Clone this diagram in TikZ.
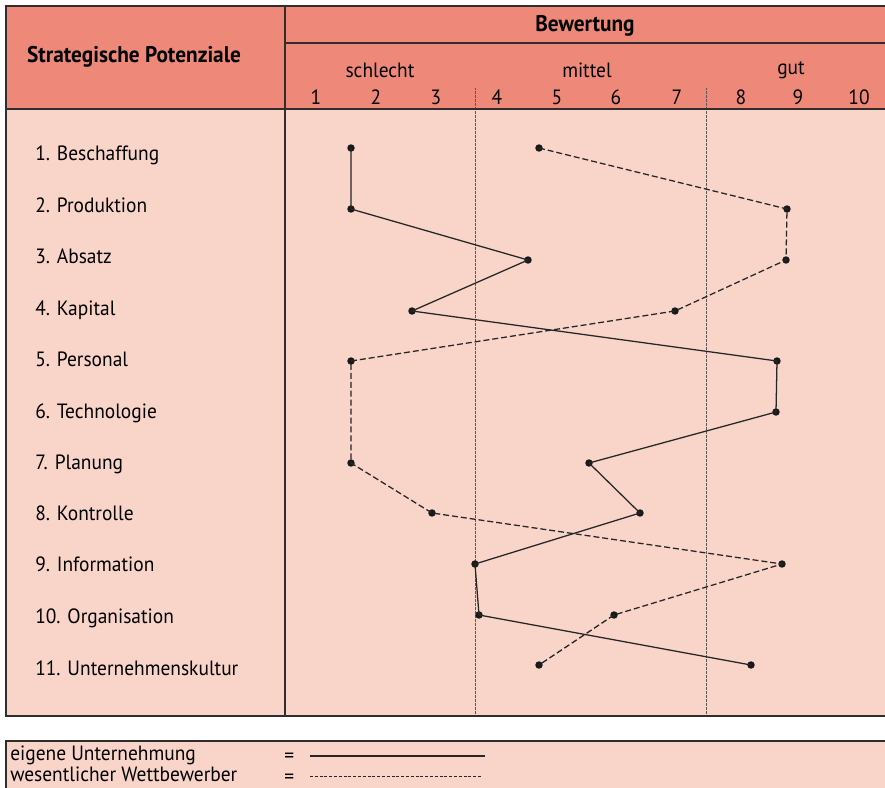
\documentclass[tikz,border=0pt]{standalone}
\usepackage{fontspec}
\setmainfont[FakeStretch=0.94]{PT Sans}
\definecolor{headfill}{RGB}{238,137,122}
\definecolor{bodyfill}{RGB}{248,212,201}
\definecolor{rule}{RGB}{50,45,45}
\begin{document}
\begin{tikzpicture}[x=0.75pt,y=-0.75pt,
  frame/.style={draw=rule,line width=1.1pt},
  divline/.style={draw=rule!80,line width=0.7pt,dash pattern=on 0.6pt off 0.4pt},
  dot/.style={circle,fill=black!90,inner sep=0pt,minimum size=5.6pt},
  own/.style={draw=black!85,line width=0.95pt},
  rival/.style={draw=black!85,line width=0.95pt,dash pattern=on 4.5pt off 2.2pt},
  item/.style={anchor=base west,font=\fontsize{15.5}{17}\selectfont,inner sep=0pt},
  head/.style={font=\fontsize{17}{19}\selectfont\bfseries,inner sep=0pt},
  scaletext/.style={font=\fontsize{15.5}{17}\selectfont,inner sep=0pt},
  legtext/.style={anchor=base west,font=\fontsize{15.5}{17}\selectfont,inner sep=0pt}]
\useasboundingbox (0,0) rectangle (885,788);
% header and body fills
\fill[headfill] (6,6) rectangle (885,109);
\fill[bodyfill] (6,109) rectangle (885,716);
\fill[bodyfill] (6,741) rectangle (885,790);
% dotted dividers
\draw[divline] (475,88) -- (475,716);
\draw[divline] (706,88) -- (706,716);
% frame lines
\draw[frame] (885,6) -- (6,6) -- (6,716) -- (885,716);
\draw[frame] (6,109) -- (885,109);
\draw[frame] (285,6) -- (285,716);
\draw[frame] (285,43) -- (885,43);
\draw[frame] (885,741) -- (6,741) -- (6,790);
% header texts
\node[head] (hsp) at (134,57) {Strategische Potenziale};
\node[head] (hbw) at (585,26) {Bewertung};
\node[scaletext] (hs) at (380,70) {schlecht};
\node[scaletext] (hm) at (587,70) {mittel};
\node[scaletext] (hg) at (791,70) {gut};
\foreach \n/\x in {1/316,2/376,3/436,4/497,5/557,6/616,7/677,8/741,9/798,10/859}
  \node[scaletext] (t\n) at (\x,97) {\n};
% items
\node[item] (i1) at (35,161) {1. Beschaffung};
\node[item] (i2) at (35,212) {2. Produktion};
\node[item] (i3) at (35,263) {3. Absatz};
\node[item] (i4) at (35,315) {4. Kapital};
\node[item] (i5) at (35,366) {5. Personal};
\node[item] (i6) at (35,418) {6. Technologie};
\node[item] (i7) at (35,469) {7. Planung};
\node[item] (i8) at (35,520) {8. Kontrolle};
\node[item] (i9) at (35,571) {9. Information};
\node[item] (i10) at (35,623) {10. Organisation};
\node[item] (i11) at (35,675) {11. Unternehmenskultur};
% own company
\node[dot] (e1) at (351,148) {};
\node[dot] (e2) at (351,209) {};
\node[dot] (e3) at (528,260) {};
\node[dot] (e4) at (412,311) {};
\node[dot] (e5) at (777,361) {};
\node[dot] (e6) at (776,412) {};
\node[dot] (e7) at (589,463) {};
\node[dot] (e8) at (640,513) {};
\node[dot] (e9) at (475,564) {};
\node[dot] (e10) at (479,615) {};
\node[dot] (e11) at (751,665) {};
\draw[own] (e1.center) -- (e2.center) -- (e3.center) -- (e4.center) -- (e5.center) -- (e6.center) -- (e7.center) -- (e8.center) -- (e9.center) -- (e10.center) -- (e11.center);
% competitor
\node[dot] (w1) at (539,148) {};
\node[dot] (w2) at (787,209) {};
\node[dot] (w3) at (786,260) {};
\node[dot] (w4) at (675,311) {};
\node[dot] (w5) at (351,361) {};
\node[dot] (w7) at (351,463) {};
\node[dot] (w8) at (432,513) {};
\node[dot] (w9) at (782,564) {};
\node[dot] (w10) at (614,615) {};
\node[dot] (w11) at (539,665) {};
\draw[rival] (w1.center) -- (w2.center) -- (w3.center) -- (w4.center) -- (w5.center) -- (w7.center) -- (w8.center) -- (w9.center) -- (w10.center) -- (w11.center);
% legend
\node[legtext] (l1) at (10,760) {eigene Unternehmung};
\node[legtext] (l2) at (10,781) {wesentlicher Wettbewerber};
\node[legtext] (q1) at (284,762) {=};
\node[legtext] (q2) at (284,783) {=};
\coordinate (s1) at (310,756);
\coordinate (s2) at (485,756);
\coordinate (d1) at (310,776);
\coordinate (d2) at (482,776);
\draw[draw=black!85,line width=0.8pt] (s1) -- (s2);
\draw[draw=black!85,line width=0.6pt,dash pattern=on 2.2pt off 1.4pt] (d1) -- (d2);
\end{tikzpicture}
\end{document}
